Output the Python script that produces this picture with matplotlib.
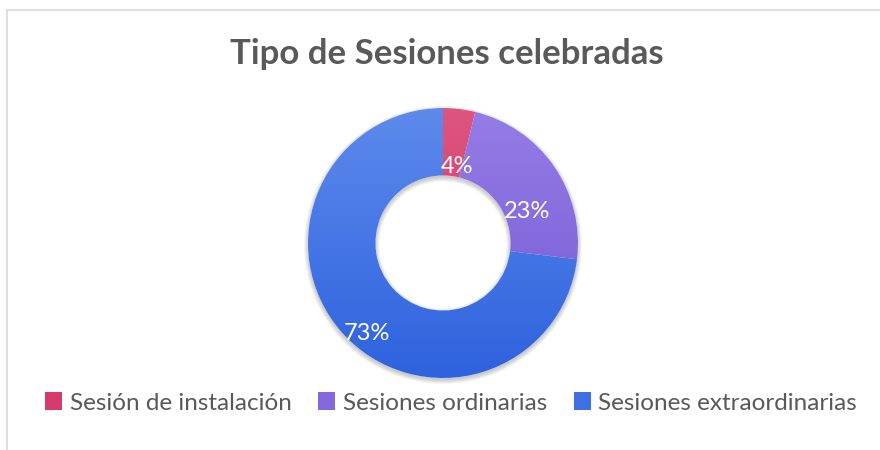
import numpy as np
import matplotlib
matplotlib.use("Agg")
import matplotlib.pyplot as plt
from matplotlib.patches import Patch, Wedge
from matplotlib.lines import Line2D

categorias = ["Sesión de instalación", "Sesiones ordinarias", "Sesiones extraordinarias"]
sesiones = [1, 6, 19]
etiquetas = ["4%", "23%", "73%"]
colores_arriba = ["#DE5580", "#957DE6", "#5E8AEC"]
colores_abajo = ["#CF2F63", "#7457D3", "#2E62DE"]
colores = ["#D63A6C", "#8468DC", "#3F70E3"]

plt.rcParams['font.family'] = ['Lato', 'DejaVu Sans']
W, H = 880, 450
fig = plt.figure(figsize=(W / 100, H / 100), dpi=100)

# marco del grafico
fig.add_artist(Line2D([7 / W, 7 / W], [0, 1 - 10 / H], color="#D9D9D9", lw=1.2))
fig.add_artist(Line2D([7 / W, 1], [1 - 10 / H, 1 - 10 / H], color="#D9D9D9", lw=1.2))

cx, cy, r = 443, 243, 135
m = 1.05
ax = fig.add_axes([(cx - r * m) / W, (H - cy - r * m) / H, 2 * r * m / W, 2 * r * m / H])

# sombra suave
for k in range(6):
    ax.add_patch(Wedge((0.0, -0.015), 1.0 + 0.006 * k, 0, 360, width=0.5 + 0.012 * k,
                       facecolor="#000000", alpha=0.035, edgecolor="none", zorder=0))

wedges, _ = ax.pie(sesiones, startangle=90, counterclock=False, radius=1,
                   wedgeprops=dict(width=0.5, facecolor="white", edgecolor="none"))

# degradado vertical en cada sector
for w, c1, c2 in zip(wedges, colores_arriba, colores_abajo):
    t = np.linspace(0, 1, 256)[:, None]
    a = np.array(matplotlib.colors.to_rgb(c1))
    b = np.array(matplotlib.colors.to_rgb(c2))
    img = (a * (1 - t) + b * t)[:, None, :].repeat(2, axis=1)
    im = ax.imshow(img, extent=[-1, 1, -1, 1], origin="upper", aspect="auto", zorder=2)
    im.set_clip_path(w)

ax.set_xlim(-m, m)
ax.set_ylim(-m, m)
ax.set_aspect("equal")
ax.axis("off")

# etiquetas de porcentaje
posiciones = [(0.10, 0.57), (0.62, 0.23), (-0.56, -0.67)]
for et, (x, y) in zip(etiquetas, posiciones):
    ax.text(x, y, et, color="white", fontsize=17, ha="center", va="center", zorder=3)

fig.text(447 / W, 1 - 54 / H, "Tipo de Sesiones celebradas", ha="center", va="center",
         fontsize=25, fontweight="bold", color="#595959")

handles = [Patch(facecolor=c, edgecolor="none") for c in colores]
fig.legend(handles, categorias, loc="center", bbox_to_anchor=(451 / W, 1 - 403 / H), ncol=3,
           frameon=False, fontsize=17.5, labelcolor="#595959", handlelength=0.7, handleheight=0.7,
           handletextpad=0.3, columnspacing=1.1)

fig.savefig("out.png", dpi=100)
